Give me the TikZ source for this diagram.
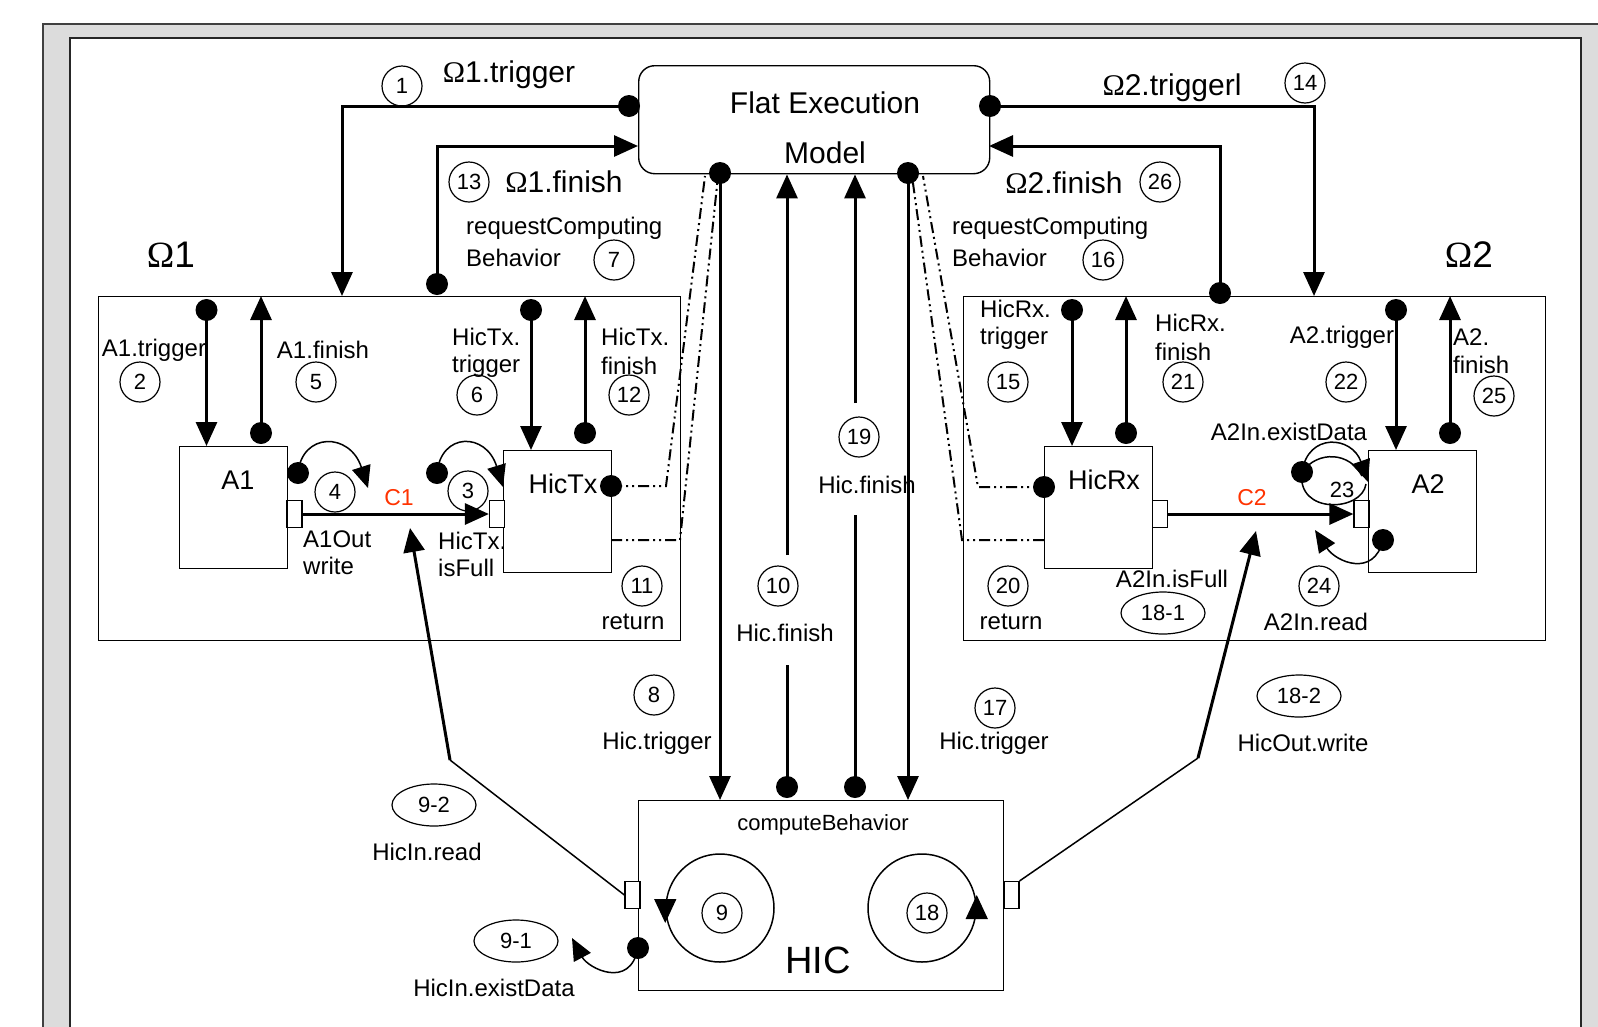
\documentclass[tikz,border=0pt]{standalone}
\usepackage{fontspec}
\setmainfont{Liberation Sans}
\newfontfamily\omfont{Liberation Serif}
\usetikzlibrary{arrows.meta,shapes.geometric,calc}
\newcommand\Om{{\omfont Ω}}
\newcommand\fbig{\fontsize{30}{34}\selectfont}
\newcommand\fsec{\fontsize{24}{27}\selectfont}
\newcommand\fnum{\fontsize{22}{24}\selectfont}
\newcommand\fblk{\fontsize{27}{30}\selectfont}
\newcommand\fOm{\fontsize{37}{40}\selectfont}
\newcommand\fhic{\fontsize{38}{40}\selectfont}
\newcommand\fcb{\fontsize{22}{24}\selectfont}
\newcommand\fCC{\fontsize{23}{25}\selectfont}
\definecolor{frgray}{RGB}{220,220,220}
\definecolor{cred}{RGB}{255,51,0}
\begin{document}
\begin{tikzpicture}[x=1pt,y=-1pt,
  box/.style={draw, line width=1.4pt, fill=white, inner sep=0, anchor=north west},
  port/.style={draw, line width=1.2pt, fill=white, minimum width=15pt, minimum height=27pt, inner sep=0},
  num/.style={circle, draw, line width=1.2pt, minimum size=40pt, inner sep=0, font=\fnum},
  ell/.style={ellipse, draw, line width=1.2pt, minimum width=84pt, minimum height=42pt, inner sep=0, font=\fnum},
  dot/.style={circle, fill=black, minimum size=22pt, inner sep=0},
  conn/.style={line width=3pt, -{Triangle[length=24pt,width=21pt]}},
  thk/.style={line width=3pt},
  thn/.style={line width=1.5pt},
  selfarc/.style={line width=1.5pt, -{Triangle[length=22pt,width=19pt]}},
  dd/.style={line width=2pt, dash pattern=on 11pt off 4pt on 2pt off 4pt on 2pt off 4pt},
  lab/.style={inner sep=0, font=\fsec},
  big/.style={inner sep=0, font=\fbig},
]
\useasboundingbox (0,0) rectangle (1598,1026);
\fill[white] (0,0) rectangle (1598,1026);
% frame
\draw[line width=1.5pt, draw=black!75, fill=frgray] (43,24) rectangle (1640,1100);
\draw[line width=2pt, draw=black!85, fill=white] (70,38) rectangle (1581,1100);

% main boxes
\node[box, rounded corners=16pt, minimum width=351pt, minimum height=108pt] (fem) at (638,65) {};
\node[big] (femt1) at (825,103) {Flat Execution};
\node[big] (femt2) at (825,153) {Model};
\node[box, minimum width=582pt, minimum height=344pt] (om1) at (98,296) {};
\node[box, minimum width=582pt, minimum height=344pt] (om2) at (963,296) {};
\node[box, minimum width=108pt, minimum height=122pt] (a1) at (179,446) {};
\node[box, minimum width=108pt, minimum height=122pt] (htx) at (503,450) {};
\node[box, minimum width=108pt, minimum height=122pt] (hrx) at (1044,446) {};
\node[box, minimum width=108pt, minimum height=122pt] (a2) at (1368,450) {};
\node[box, minimum width=365pt, minimum height=190pt] (hic) at (638,800) {};

\node[inner sep=0, font=\fblk] (a1t) at (238,480) {A1};
\node[inner sep=0, font=\fblk] (htxt) at (563,484) {HicTx};
\node[inner sep=0, font=\fblk] (hrxt) at (1104,480) {HicRx};
\node[inner sep=0, font=\fblk] (a2t) at (1428,484) {A2};
\node[inner sep=0, font=\fcb] (cbt) at (823,825) {computeBehavior};
\node[inner sep=0, font=\fhic] (hict) at (818,960) {HIC};

% ports
\node[port] (p1) at (294.5,514) {};
\node[port] (p2) at (497,514) {};
\node[port] (p3) at (1160,514) {};
\node[port] (p4) at (1361.5,514) {};
\node[port] (p5) at (632.5,895) {};
\node[port] (p6) at (1011.5,895) {};

% dots
\node[dot] (d1) at (629,106) {};
\node[dot] (d2) at (437,284) {};
\node[dot] (d3) at (990,106) {};
\node[dot] (d4) at (1220,293) {};
\node[dot] (d5) at (720,173) {};
\node[dot] (d6) at (908,173) {};
\node[dot] (d7) at (787,787) {};
\node[dot] (d8) at (855,787) {};
\node[dot] (d9) at (611,486) {};
\node[dot] (d10) at (1044,487) {};
\node[dot] (d11) at (298,473) {};
\node[dot] (d12) at (437,473) {};
\node[dot] (d13) at (1302,472) {};
\node[dot] (d14) at (1383,540) {};
\node[dot] (d15) at (638,948) {};
\node[dot] (da1) at (206.5,310) {};
\node[dot] (da2) at (261,433) {};
\node[dot] (da3) at (531,310) {};
\node[dot] (da4) at (585,433) {};
\node[dot] (da5) at (1072,310) {};
\node[dot] (da6) at (1126,433) {};
\node[dot] (da7) at (1396,310) {};
\node[dot] (da8) at (1450,433) {};

% coordinates for free ends
\coordinate (e1) at (342,296);
\coordinate (e2) at (638,146);
\coordinate (e3) at (1314,296);
\coordinate (e4) at (989,146);
\coordinate (g1) at (787,665);
\coordinate (g2) at (787,555);
\coordinate (g3) at (855,515);
\coordinate (g4) at (855,403);
\coordinate (k1) at (450,760);
\coordinate (c1t) at (410,528);
\coordinate (k2) at (1198,758);
\coordinate (c2t) at (1256,531);
\coordinate (ret1) at (611,540);
\coordinate (ret2) at (1044,540);

% top connectors
\draw[conn] (d1.center) -| (e1);
\draw[conn] (d2.center) |- (e2);
\draw[conn] (d3.center) -| (e3);
\draw[conn] (d4.center) |- (e4);

% vertical FEM - HIC
\draw[conn] (d5.center) -- (d5.center |- hic.north);
\draw[conn] (d6.center) -- (d6.center |- hic.north);
\draw[thk] (d7.center) -- (g1);
\draw[conn] (g2) -- (g2 |- fem.south);
\draw[thk] (d8.center) -- (g3);
\draw[conn] (g4) -- (g4 |- fem.south);

% internal trigger / finish arrows
\draw[conn] (da1.center) -- (da1.center |- a1.north);
\draw[conn] (da2.center) -- (da2.center |- om1.north);
\draw[conn] (da3.center) -- (da3.center |- htx.north);
\draw[conn] (da4.center) -- (da4.center |- om1.north);
\draw[conn] (da5.center) -- (da5.center |- hrx.north);
\draw[conn] (da6.center) -- (da6.center |- om2.north);
\draw[conn] (da7.center) -- (da7.center |- a2.north);
\draw[conn] (da8.center) -- (da8.center |- om2.north);

% channels
\draw[conn] (p1.east) -- (p2.west);
\draw[conn] (p3.east) -- (p4.west);

% HIC port links
\draw[thn] (p5.west) -- (k1);
\draw[conn] (k1) -- (c1t);
\draw[thn] (p6.north east) -- (k2);
\draw[conn] (k2) -- (c2t);

% dash-dot calls
\draw[dd] (d9.center) -- (666,486) -- (705,176);
\draw[dd] (ret1) -- (680,540) -- (718,176);
\draw[dd] (d10.center) -- (978,487) -- (923,176);
\draw[dd] (ret2) -- (962,540) -- (912,176);

% self loops
\draw[selfarc] (d11.center) .. controls (302,432) and (350,432) .. (368,488);
\draw[selfarc] (d12.center) .. controls (441,432) and (486,432) .. (503,487);
\draw[selfarc] (d13.center) .. controls (1308,432) and (1352,436) .. (1368,482);
\draw[thn] (d13.center) .. controls (1318,450) and (1350,452) .. (1362,476);
\draw[thn] (d13.center) .. controls (1296,515) and (1362,512) .. (1366,484);
\draw[selfarc] (d14.center) .. controls (1374,578) and (1336,562) .. (1315,530);
\draw[selfarc] (d15.center) .. controls (630,990) and (588,968) .. (572,938);

% HIC cycles
\node[circle, draw, line width=1.5pt, minimum size=108pt, inner sep=0] (cyc1) at (720,908) {};
\node[circle, draw, line width=1.5pt, minimum size=108pt, inner sep=0] (cyc2) at (922,908) {};
\draw[line width=1.5pt, -{Triangle[length=24pt,width=22pt]}] (cyc1.west) -- ++(0,15);
\draw[line width=1.5pt, -{Triangle[length=24pt,width=22pt]}] (cyc2.east) -- ++(0,-13);

% numbered circles
\node[num] (n1) at (402,86) {1};
\node[num] (n13) at (469,182) {13};
\node[num] (n7) at (614,260) {7};
\node[num] (n14) at (1305,83) {14};
\node[num] (n26) at (1160,182) {26};
\node[num] (n16) at (1103,260) {16};
\node[num] (n2) at (140,382) {2};
\node[num] (n5) at (316,382) {5};
\node[num] (n6) at (477,395) {6};
\node[num] (n12) at (629,395) {12};
\node[num] (n4) at (335,492) {4};
\node[num] (n3) at (468,491) {3};
\node[num] (n11) at (642,586) {11};
\node[num] (n15) at (1008,382) {15};
\node[num] (n21) at (1183,382) {21};
\node[num] (n22) at (1346,382) {22};
\node[num] (n25) at (1494,396) {25};
\node[num] (n20) at (1008,586) {20};
\node[num] (n24) at (1319,586) {24};
\node[num] (n8) at (654,695) {8};
\node[num] (n17) at (995,708) {17};
\node[num] (n10) at (778,586) {10};
\node[num] (n19) at (859,437) {19};
\node[num] (n9) at (722,913) {9};
\node[num] (n18) at (927,913) {18};
\node[ell] (e181) at (1163,613) {18-1};
\node[ell] (e182) at (1299,696) {18-2};
\node[ell] (e92) at (434,805) {9-2};
\node[ell] (e91) at (516,941) {9-1};

% labels top
\node[big] (l1) at (509,75) {\Om1.trigger};
\node[big] (l13) at (564,182) {\Om1.finish};
\node[lab, anchor=west] (l7a) at (466,228) {requestComputing};
\node[lab, anchor=west] (l7b) at (466,258) {Behavior};
\node[big] (l14) at (1172,88) {\Om2.triggerl};
\node[big] (l26) at (1064,183) {\Om2.finish};
\node[lab, anchor=west] (l16a) at (952,228) {requestComputing};
\node[lab, anchor=west] (l16b) at (952,258) {Behavior};
\node[inner sep=0, font=\fOm] (lo1) at (171,255) {\Om1};
\node[inner sep=0, font=\fOm] (lo2) at (1469,255) {\Om2};

% labels Omega1
\node[lab] (l2) at (154,350) {A1.trigger};
\node[lab] (l5) at (323,350) {A1.finish};
\node[lab, anchor=west] (l6a) at (452,337) {HicTx.};
\node[lab, anchor=west] (l6b) at (452,366) {trigger};
\node[lab, anchor=west] (l12a) at (601,337) {HicTx.};
\node[lab, anchor=west] (l12b) at (601,366) {finish};
\node[lab, anchor=west] (la1o) at (303,539) {A1Out};
\node[lab, anchor=west] (la1w) at (303,566) {write};
\node[lab, anchor=west] (lhf1) at (438,541) {HicTx.};
\node[lab, anchor=west] (lhf2) at (438,568) {isFull};
\node[lab] (l11) at (633,622) {return};
\node[inner sep=0, font=\fCC, text=cred] (lc1) at (399,498) {C1};

% labels Omega2
\node[lab, anchor=west] (l15a) at (980,309) {HicRx.};
\node[lab, anchor=west] (l15b) at (980,338) {trigger};
\node[lab, anchor=west] (l21a) at (1155,323) {HicRx.};
\node[lab, anchor=west] (l21b) at (1155,352) {finish};
\node[lab] (l22) at (1342,337) {A2.trigger};
\node[lab, anchor=west] (l25a) at (1453,337) {A2.};
\node[lab, anchor=west] (l25b) at (1453,365) {finish};
\node[lab] (l23) at (1289,432) {A2In.existData};
\node[inner sep=0, font=\fcb] (l23n) at (1342,490) {23};
\node[lab] (l20) at (1011,622) {return};
\node[lab] (l181) at (1172,579) {A2In.isFull};
\node[lab] (l24) at (1316,622) {A2In.read};
\node[inner sep=0, font=\fCC, text=cred] (lc2) at (1252,498) {C2};

% labels middle
\node[lab] (l8) at (657,743) {Hic.trigger};
\node[lab] (l17) at (994,743) {Hic.trigger};
\node[lab] (l10) at (785,633) {Hic.finish};
\node[lab] (l19) at (867,485) {Hic.finish};
\node[lab] (l92) at (427,852) {HicIn.read};
\node[lab] (l91) at (494,988) {HicIn.existData};
\node[lab] (l182) at (1303,743) {HicOut.write};
\end{tikzpicture}
\end{document}
